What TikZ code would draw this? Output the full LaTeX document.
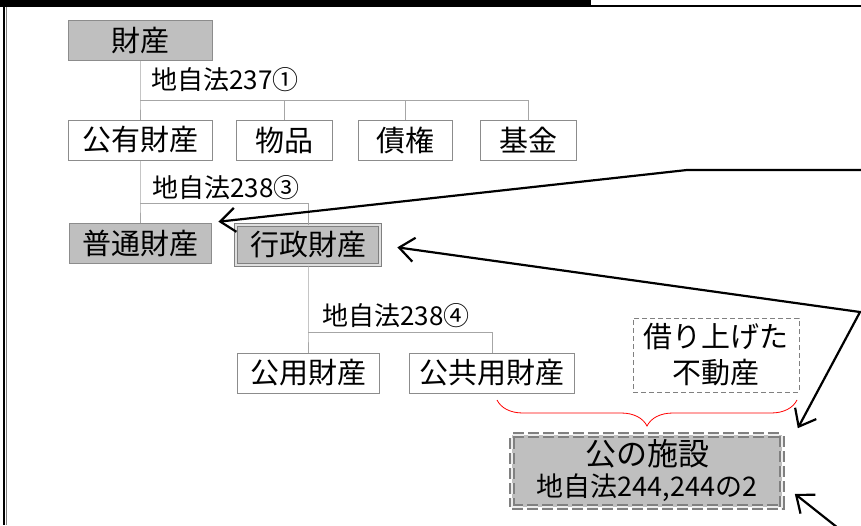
\documentclass[tikz,border=0pt]{standalone}
\usepackage{fontspec}
\setmainfont{Noto Sans CJK JP}
\usetikzlibrary{arrows.meta, positioning, calc, decorations.pathreplacing}
\definecolor{BoxGray}{HTML}{BFBFBF}
\definecolor{EdgeGray}{HTML}{8C8C8C}
\definecolor{TreeGray}{HTML}{A6A6A6}
\definecolor{BraceRed}{HTML}{FF0000}

\begin{document}
\begin{tikzpicture}[x=1pt, y=-1pt,
  box/.style={draw=EdgeGray, line width=1pt, fill=white, minimum height=40pt,
    inner sep=0pt, font=\fontsize{29}{31}\selectfont},
  gbox/.style={box, fill=BoxGray},
  law/.style={anchor=west, inner sep=0pt, font=\fontsize{26}{28}\selectfont},
  tree/.style={draw=TreeGray, line width=1pt},
  callout/.style={draw=black, line width=2.2pt, line join=miter,
    -{Straight Barb[length=15pt,width=24pt]}}]
  \useasboundingbox (0,0) rectangle (861,525);
  % frame
  \fill[black] (0,0) rectangle (591,7);
  \draw[black, line width=2pt] (591,6) -- (861,6);
  \draw[black, line width=2.5pt] (4,0) -- (4,525);
  \draw[gray, line width=1pt] (6,7) -- (6,525);

  % boxes
  \node[gbox, minimum width=144pt] (zaisan) at (140,40) {財産};
  \node[box, minimum width=144pt] (koyu) at (140,140) {公有財産};
  \node[box, minimum width=96pt] (buppin) at (284,140) {物品};
  \node[box, minimum width=94pt] (saiken) at (405,140) {債権};
  \node[box, minimum width=96pt] (kikin) at (528,140) {基金};
  \node[gbox, minimum width=142pt] (futsu) at (140,243) {普通財産};
  \node[gbox, minimum width=144pt, minimum height=40pt, draw=gray,
    double=gray!25, double distance=1.5pt] (gyosei) at (308,245) {行政財産};
  \node[box, minimum width=142pt] (koyo) at (308,373) {公用財産};
  \node[box, minimum width=165pt] (kokyo) at (492,373) {公共用財産};
  \node[box, draw=gray, dash pattern=on 5pt off 3pt, minimum width=166pt,
    minimum height=74pt, align=center,
    font=\fontsize{29}{36}\selectfont] (kariage) at (716,355) {借り上げた\\不動産};
  \node[gbox, draw=gray, line width=1.6pt, dash pattern=on 11pt off 4pt,
    double=gray!15, double distance=2pt,
    minimum width=270pt, minimum height=72pt, align=center] (shisetsu) at (647,471)
    {{\fontsize{31}{35}\selectfont 公の施設}\\{\fontsize{27}{31}\selectfont 地自法244,244の2}};

  % tree
  \coordinate (bus1) at (140,100);
  \coordinate (bus2) at (140,203);
  \coordinate (bus3) at (308,332);
  \draw[tree] (zaisan.south) -- (bus1) -- (koyu.north);
  \draw[tree] (bus1) -| (kikin.north);
  \draw[tree] (buppin.north) -- (buppin.north |- bus1);
  \draw[tree] (saiken.north) -- (saiken.north |- bus1);
  \draw[tree] (koyu.south) -- (bus2) -- (futsu.north);
  \draw[tree] (bus2) -| (gyosei.north);
  \draw[tree] (gyosei.south) -- (bus3) -- (koyo.north);
  \draw[tree] (bus3) -| (kokyo.north);
  \node[law] (law1) at (151,80) {地自法237①};
  \node[law] (law2) at (152,188) {地自法238③};
  \node[law] (law3) at (322,316) {地自法238④};

  % brace
  \draw[BraceRed, line width=0.8pt, decorate,
    decoration={brace, mirror, amplitude=26pt}] (497,400) -- (797,400);

  % callouts
  \coordinate (in1) at (861,170);
  \coordinate (bend1) at (687,170);
  \coordinate (bend2) at (860,312);
  \coordinate (in3) at (838,528);
  \draw[callout, shorten >=7pt] (in1) -- (bend1) -- (futsu.north east);
  \draw[callout, {Straight Barb[length=15pt,width=24pt]}-{Straight Barb[length=15pt,width=24pt]},
    shorten <=17pt] (gyosei.east) -- (bend2) -- ([xshift=15pt,yshift=6pt]shisetsu.north east);
  \draw[callout] (in3) -- ([xshift=12pt,yshift=14pt]shisetsu.south east);
\end{tikzpicture}
\end{document}
